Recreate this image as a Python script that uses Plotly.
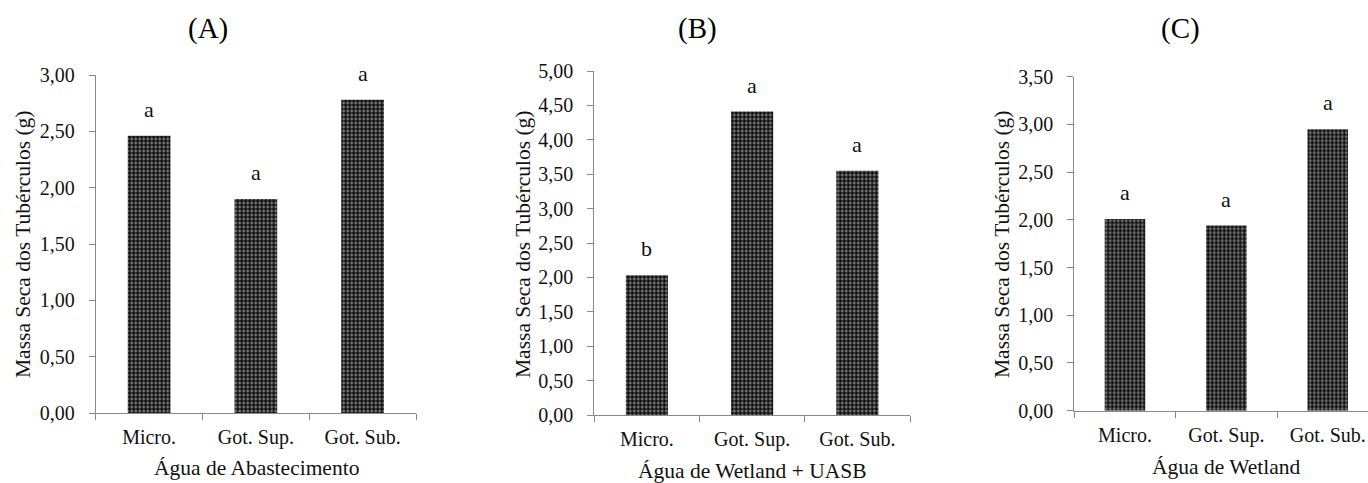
import plotly.graph_objects as go

W, H = 1368, 483

categories = ["Micro.", "Got. Sup.", "Got. Sub."]
values_A = [2.46, 1.90, 2.78]
values_B = [2.03, 4.41, 3.55]
values_C = [2.01, 1.94, 2.95]
letters_A = ["a", "a", "a"]
letters_B = ["b", "a", "a"]
letters_C = ["a", "a", "a"]
panel_titles = ["(A)", "(B)", "(C)"]
x_titles = ["Água de Abastecimento", "Água de Wetland + UASB", "Água de Wetland"]
y_title = "Massa Seca dos Tubérculos (g)"
y_max = [3.0, 5.0, 3.5]

FONT = "Liberation Serif"
AX = "#898989"

# pixel layout (left, right, top, bottom) of each plot area
px = [(95.7, 416.0, 75.0, 413.0), (594.3, 910.0, 71.0, 415.0), (1074.3, 1368.0, 76.7, 410.7)]
xranges = [[-0.5, 2.5], [-0.5, 2.5], [-0.5, 2.397]]
title_pos = [(208, 29), (698, 28), (1180, 29)]
xtitle_pos = [(256, 468), (752, 471), (1226, 467)]
ytitle_x = [23, 523, 1002]

fig = go.Figure()
series = [values_A, values_B, values_C]
letters = [letters_A, letters_B, letters_C]

for i in range(3):
    xa = "x" if i == 0 else f"x{i+1}"
    ya = "y" if i == 0 else f"y{i+1}"
    fig.add_trace(go.Bar(
        x=categories, y=series[i], xaxis=xa, yaxis=ya, width=0.4,
        marker=dict(color="#a0a0a0", line=dict(width=0),
                    pattern=dict(shape=".", fgcolor="#111111", bgcolor="#a0a0a0",
                                 size=4, solidity=0.7, fillmode="replace")),
        showlegend=False, hoverinfo="skip"))
    l, r, t, b = px[i]
    xkey = "xaxis" if i == 0 else f"xaxis{i+1}"
    ykey = "yaxis" if i == 0 else f"yaxis{i+1}"
    fig.update_layout({
        xkey: dict(domain=[l / W, r / W], anchor=ya, type="category", range=xranges[i],
                   automargin=False,
                   showline=True, linecolor=AX, linewidth=1, showgrid=False, zeroline=False,
                   ticks="outside", tickson="boundaries", ticklen=6, tickcolor=AX,
                   tickfont=dict(family=FONT, size=20, color="#111"), ticklabelstandoff=6),
        ykey: dict(domain=[(H - b) / H, (H - t) / H], anchor=xa, range=[0, y_max[i]],
                   automargin=False, dtick=0.5, tickformat=".2f",
                   showline=True, linecolor=AX, linewidth=1, showgrid=False, zeroline=False,
                   ticks="outside", ticklen=6, tickcolor=AX,
                   tickfont=dict(family=FONT, size=20, color="#111"), ticklabelstandoff=10),
    })
    for c, v, s in zip(categories, series[i], letters[i]):
        fig.add_annotation(x=c, y=v, xref=xa, yref=ya, text=s, showarrow=False,
                           yanchor="bottom", yshift=12,
                           font=dict(family=FONT, size=22, color="#111"))
    tx, ty = title_pos[i]
    fig.add_annotation(x=tx / W, y=1 - ty / H, xref="paper", yref="paper", text=panel_titles[i],
                       showarrow=False, xanchor="center", yanchor="middle",
                       font=dict(family=FONT, size=29, color="#000"))
    qx, qy = xtitle_pos[i]
    fig.add_annotation(x=qx / W, y=1 - qy / H, xref="paper", yref="paper", text=x_titles[i],
                       showarrow=False, xanchor="center", yanchor="middle",
                       font=dict(family=FONT, size=21.5, color="#111"))
    fig.add_annotation(x=ytitle_x[i] / W, y=1 - 244 / H, xref="paper", yref="paper", text=y_title,
                       showarrow=False, textangle=-90, xanchor="center", yanchor="middle",
                       font=dict(family=FONT, size=21.5, color="#111"))

fig.update_layout(width=W, height=H, margin=dict(l=0, r=0, t=0, b=0, pad=0, autoexpand=False),
                  paper_bgcolor="white", plot_bgcolor="white",
                  font=dict(family=FONT, size=20, color="#111"),
                  separators=",.", bargap=0.6)

fig.write_html("out.html", config={"displayModeBar": False},
               post_script="document.body.style.margin='0';document.body.style.overflow='hidden';")
